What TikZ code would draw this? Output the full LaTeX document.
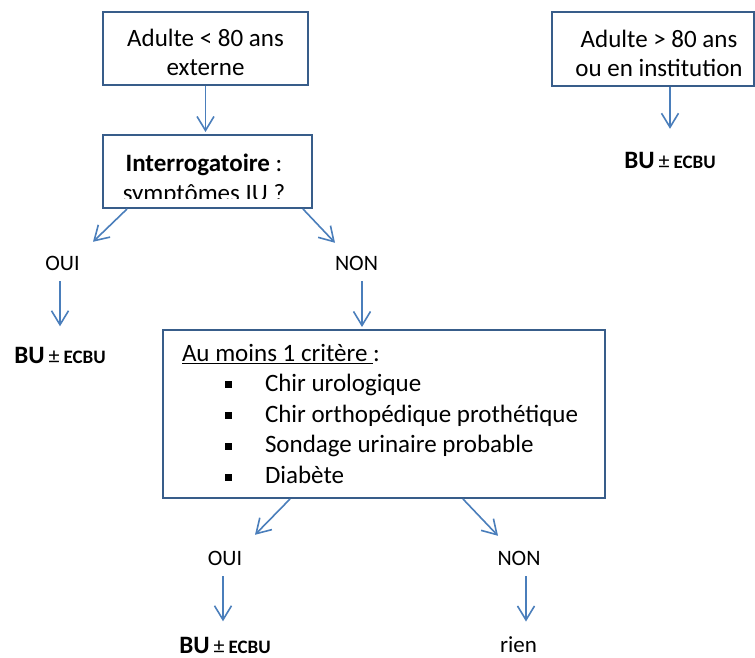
\documentclass[tikz,border=0pt]{standalone}
\usepackage{fontspec}
\setmainfont{Carlito}
\usetikzlibrary{arrows.meta}
\definecolor{boxblue}{HTML}{385D8A}
\definecolor{arrowblue}{HTML}{4A7EBB}
\newcommand*\boxfont{\fontsize{25}{29}\selectfont}
\newcommand*\lblfont{\fontsize{22}{26}\selectfont}
\newcommand*\buecbu{{\fontsize{25}{28}\selectfont\bfseries BU}\hspace{4pt}{\fontsize{22}{20}\selectfont ±}\hspace{4pt}{\fontsize{19}{20}\selectfont\bfseries ECBU}}
\newcommand*\critbullet{\raisebox{3pt}{\rule{7pt}{7pt}}}
\tikzset{
    box/.style = {draw=boxblue, line width=2pt, inner sep=0pt},
    boxtext/.style = {inner sep=0pt, outer sep=0pt, align=center, font=\boxfont},
    lbl/.style = {inner sep=0pt, outer sep=0pt, font=\lblfont},
    res/.style = {inner sep=0pt, outer sep=0pt},
    arr/.style = {draw=arrowblue, line width=1.6pt, -{Straight Barb[length=14pt,width=17pt]}},
  }

\begin{document}
\begin{tikzpicture}[x=1pt, y=-1pt]
      \useasboundingbox (0,0) rectangle (755,658);

      % the two entry boxes
      \node[box, minimum width=205pt, minimum height=73pt] (a1) at (205.5,48.5) {};
      \node[boxtext] (a1txt) at (205.5,52.5) {Adulte < 80 ans\\externe};
      \node[box, minimum width=202pt, minimum height=74pt] (a2) at (653,49) {};
      \node[boxtext] (a2txt) at (659,53) {Adulte > 80 ans\\ou en institution};
      \node[res] (bu0) at (670,160) {\buecbu};

      % questioning box, text cut at the bottom
      \node[box, minimum width=209pt, minimum height=73pt] (q) at (207.5,171.5) {};
      \begin{scope}
        \clip (104,136) rectangle (311,198.5);
        \node[boxtext, font=\fontsize{25}{30}\selectfont] (qtxt) at (204,180) {\textbf{Interrogatoire} :\\symptômes IU ?};
      \end{scope}

      % first answers
      \node[lbl] (oui1) at (62.5,263) {OUI};
      \node[lbl] (non1) at (356.5,263) {NON};
      \node[res] (bu1) at (60,355.5) {\buecbu};

      % criteria box
      \node[box, minimum width=442pt, minimum height=168pt, text width=404pt, align=flush left,
            font=\fontsize{25}{30.75}\selectfont] (c) at (384,414) {%
        \underline{Au moins 1 critère\ }:\\[-1pt]
        \hspace*{43pt}\critbullet\hspace*{33pt}Chir urologique\\
        \hspace*{43pt}\critbullet\hspace*{33pt}Chir orthopédique prothétique\\
        \hspace*{43pt}\critbullet\hspace*{33pt}Sondage urinaire probable\\
        \hspace*{43pt}\critbullet\hspace*{33pt}Diabète};

      % second answers
      \node[lbl] (oui2) at (225,558.5) {OUI};
      \node[lbl] (non2) at (519,558.5) {NON};
      \node[res] (bu2) at (225,645.5) {\buecbu};
      \node[res, font=\fontsize{23}{27}\selectfont] (rien) at (518.5,645) {rien};

      % arrows
      \draw[arr, shorten >=2pt] (a1.south) -- (a1.south |- q.north);
      \draw[arr] (a2.south -| bu0) -- ([yshift=23pt]bu0.north);
      \draw[arr] ([xshift=25pt]q.south west) -- ([xshift=30.5pt,yshift=14pt]oui1.north);
      \draw[arr] ([xshift=-10pt]q.south east) -- ([xshift=-21.5pt,yshift=13pt]non1.north);
      \draw[arr] ([xshift=-2.5pt,yshift=-11pt]oui1.south) -- ([yshift=21pt]bu1.north);
      \draw[arr] ([xshift=5.5pt,yshift=-11pt]non1.south) -- ([xshift=-22pt,yshift=2pt]c.north);
      \draw[arr] ([xshift=128pt]c.south west) -- ([xshift=30pt,yshift=16.5pt]oui2.north);
      \draw[arr] ([xshift=-143pt]c.south east) -- ([xshift=-21pt,yshift=15.5pt]non2.north);
      \draw[arr] ([xshift=-2pt,yshift=-10.5pt]oui2.south) -- ([xshift=-2pt,yshift=16pt]bu2.north);
      \draw[arr] ([xshift=7pt,yshift=-10.5pt]non2.south) -- ([xshift=7.5pt,yshift=15.5pt]rien.north);
    \end{tikzpicture}
\end{document}
